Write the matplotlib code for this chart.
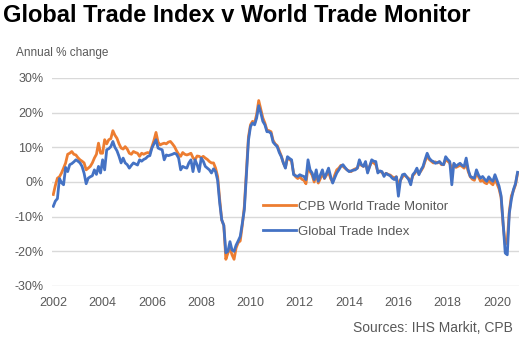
import matplotlib
matplotlib.use("Agg")
import matplotlib.pyplot as plt
import numpy as np

plt.rcParams['font.family'] = ['Liberation Sans', 'DejaVu Sans']

start_year = 2002
# Monthly annual % change, Jan 2002 - Nov 2020
cpb = [
    -3.6, -1.0, 1.1, 1.5, 2.6, 4.0, 5.5, 8.0, 8.3, 8.8, 8.0, 7.8,
    7.0, 6.4, 6.0, 5.5, 3.5, 4.0, 4.5, 5.5, 6.9, 8.0, 11.2, 8.3,
    8.3, 12.2, 11.0, 12.2, 12.5, 14.8, 13.5, 12.6, 11.0, 9.8, 9.5, 10.2,
    9.5, 8.3, 8.0, 8.8, 8.5, 8.3, 7.4, 8.3, 8.0, 8.3, 8.5, 8.3,
    10.2, 12.0, 14.3, 11.5, 10.7, 11.0, 11.2, 11.0, 11.5, 11.7, 11.0, 10.2,
    9.0, 8.0, 7.4, 8.5, 8.0, 7.8, 8.0, 8.3, 7.0, 6.4, 7.5, 7.4,
    7.0, 7.4, 6.9, 6.5, 5.9, 5.5, 5.5, 4.0, 1.6, -5.0, -11.0, -12.5,
    -22.3, -20.5, -19.0, -21.0, -22.3, -19.0, -17.5, -17.0, -12.5, -7.0, 3.0, 13.0,
    16.5, 17.5, 17.0, 19.5, 23.5, 21.0, 18.5, 17.0, 15.0, 14.8, 14.5, 12.0,
    11.0, 10.5, 9.0, 7.5, 5.5, 4.2, 7.0, 6.5, 6.0, 2.5, 1.5, 1.0,
    1.5, 0.8, 0.5, -0.5, 4.5, 3.0, 2.0, 0.0, 2.5, -0.3, 1.0, 2.5,
    1.0, 2.0, 3.0, 1.0, 0.0, 2.0, 3.5, 4.0, 4.8, 4.5, 4.0, 3.5,
    3.2, 3.0, 3.5, 3.8, 4.0, 5.5, 4.8, 4.5, 5.5, 3.0, 4.5, 5.8,
    5.5, 5.0, 3.0, 3.0, 2.8, 2.0, 2.5, 2.2, 2.0, 1.5, 1.2, 1.5,
    -1.0, 0.5, 1.5, 2.0, 1.5, 1.0, 0.0, 1.8, 2.5, 3.5, 2.5, 3.2,
    4.2, 6.0, 7.5, 6.5, 6.0, 5.5, 5.8, 5.5, 5.8, 5.0, 5.0, 6.5,
    6.0, 5.5, 3.5, 5.0, 4.2, 4.5, 4.8, 4.5, 4.0, 5.5, 3.0, 1.5,
    0.8, 0.5, 2.5, 1.5, 0.2, 0.5, -0.2, -0.5, 0.5, -0.3, -0.8, 0.8,
    -0.5, -2.0, -4.5, -12.5, -18.0, -17.0, -8.5, -4.0, -2.5, -0.8, 2.5,
]
gti = [
    -7.0, -5.5, -4.8, 1.0, -0.2, -0.8, 4.2, 3.0, 5.0, 5.3, 5.8, 6.4,
    6.0, 5.5, 4.5, 2.5, -0.5, 1.1, 1.5, 1.8, 3.5, 2.2, 4.5, 2.6,
    6.4, 3.5, 9.3, 9.6, 10.2, 11.7, 10.0, 9.0, 7.4, 5.5, 6.9, 5.5,
    5.0, 4.0, 4.8, 5.5, 5.2, 4.9, 6.4, 6.0, 6.5, 6.8, 7.4, 7.6,
    9.8, 11.0, 12.2, 9.8, 9.5, 9.3, 6.4, 7.8, 7.6, 7.8, 8.0, 8.3,
    8.0, 6.9, 3.5, 4.5, 4.2, 4.0, 5.5, 6.4, 3.0, 6.4, 5.0, 3.0,
    6.9, 6.0, 4.5, 4.0, 3.5, 2.6, 3.8, 3.0, 0.5, -6.0, -10.9, -12.5,
    -20.4, -20.0, -17.2, -19.6, -20.0, -18.2, -17.0, -15.7, -12.0, -8.0, 2.0, 12.0,
    16.0, 17.0, 16.5, 18.5, 22.0, 20.0, 17.5, 16.5, 14.5, 14.5, 14.0, 11.5,
    10.8, 10.2, 8.5, 7.3, 5.5, 4.0, 7.3, 6.8, 6.4, 2.1, 1.8, 1.6,
    2.1, 1.8, 1.6, 0.7, 6.4, 3.5, 2.6, 0.7, 3.5, 0.2, 2.0, 3.5,
    1.1, 2.5, 4.0, 1.6, -0.3, 1.2, 2.6, 3.5, 4.5, 5.0, 4.2, 3.5,
    3.0, 3.2, 3.4, 3.5, 4.0, 6.4, 5.0, 4.5, 5.9, 2.6, 4.5, 6.4,
    6.0, 5.9, 2.6, 3.2, 3.0, 1.6, 2.5, 2.1, 1.8, 1.1, 0.7, 1.5,
    -4.1, 0.5, 2.1, 2.3, 1.5, 0.7, -0.8, 2.1, 2.8, 4.0, 2.1, 3.5,
    4.5, 6.5, 8.3, 6.9, 6.2, 5.9, 5.4, 5.6, 5.9, 5.2, 5.0, 7.3,
    6.5, 5.9, -0.8, 5.4, 4.5, 5.0, 5.4, 4.8, 4.5, 6.9, 3.5, 1.6,
    1.3, 1.1, 3.5, 2.0, 1.1, 1.6, 0.8, 0.2, 1.5, 0.7, 0.2, 2.1,
    0.5, -1.2, -4.0, -12.0, -20.5, -21.0, -9.0, -5.0, -2.2, -0.5, 2.8,
]
year_ticks = [2002, 2004, 2006, 2008, 2010, 2012, 2014, 2016, 2018, 2020]
y_ticks = [-30, -20, -10, 0, 10, 20, 30]

x_cpb = start_year + np.arange(len(cpb)) / 12.0
x_gti = start_year + np.arange(len(gti)) / 12.0

fig = plt.figure(figsize=(5.25, 3.45), dpi=100)
ax = fig.add_axes([52/525, 1 - 286/345, (519-52)/525, (286-78)/345])

ax.plot(x_cpb, cpb, color='#ED7D31', lw=2.0, label='CPB World Trade Monitor', solid_joinstyle='round')
ax.plot(x_gti, gti, color='#4472C4', lw=2.0, label='Global Trade Index', solid_joinstyle='round')

ax.set_ylim(-30, 30)
ax.set_xlim(2002 - 1.3/24.65, 2002 + (519-53.3)/24.65)
ax.set_yticks(y_ticks)
ax.set_yticklabels([f"{v}%" for v in y_ticks])
ax.set_xticks(year_ticks)
ax.set_xticklabels([str(y) for y in year_ticks])
ax.grid(axis='y', color='#D9D9D9', lw=1)
ax.set_axisbelow(True)
for s in ax.spines.values():
    s.set_visible(False)
ax.tick_params(axis='both', length=0, colors='#595959', labelsize=9)
ax.tick_params(axis='x', pad=8)
ax.tick_params(axis='y', pad=6)

fig.text(3/525, 1 - 16/345, 'Global Trade Index v World Trade Monitor',
         fontsize=17, fontweight='bold', color='black', va='center', ha='left')
fig.text(16/525, 1 - 53/345, 'Annual % change', fontsize=8.5, color='#595959',
         va='center', ha='left')
fig.text(513/525, 1 - 328/345, 'Sources: IHS Markit, CPB', fontsize=10,
         color='#595959', va='center', ha='right')

leg = ax.legend(loc='upper left', bbox_to_anchor=(258/525, 1 - 195/345),
                bbox_transform=fig.transFigure, frameon=False, fontsize=9.5,
                handlelength=2.5, handletextpad=0.1, labelspacing=1.0,
                borderaxespad=0)
for t in leg.get_texts():
    t.set_color('#595959')

fig.savefig('out.png', dpi=100)
